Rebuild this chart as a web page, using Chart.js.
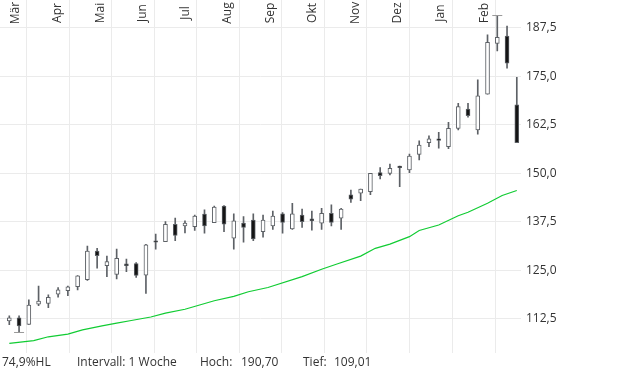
<!DOCTYPE html>
<html lang="de">
<head>
<meta charset="UTF-8">
<title>Wochenchart</title>
<script src="https://cdn.jsdelivr.net/npm/chart.js@4.4.1/dist/chart.umd.min.js"></script>
<style>
    html, body { margin: 0; padding: 0; background: #fff; }
    #wrap { position: relative; width: 620px; height: 372px; font-family: "Open Sans", sans-serif; font-size: 12px; color: #333; }
    #wrap canvas { position: absolute; left: 0; top: 0; }
    .foot { position: absolute; top: 354px; line-height: 16px; white-space: nowrap; }
</style>
</head>
<body>
<div id="wrap">
    <canvas id="chart" width="620" height="372"></canvas>
    <span class="foot" style="left:2px">74,9%HL</span>
    <span class="foot" style="left:77px">Intervall: 1 Woche</span>
    <span class="foot" style="left:200px">Hoch:</span>
    <span class="foot" style="left:241px">190,70</span>
    <span class="foot" style="left:303px">Tief:</span>
    <span class="foot" style="left:334px">109,01</span>
</div>
<script>
// weekly candles, week 0 = first week of March
var opens  = [112.0, 112.8, 111.1, 116.3, 116.5, 118.9, 119.8, 120.8, 122.6, 130.0,
              126.2, 124.0, 126.7, 126.8, 123.8, 132.6, 132.4, 136.9, 136.5, 136.3,
              139.5, 137.3, 141.6, 133.3, 137.2, 138.0, 135.0, 136.5, 139.6, 135.7,
              139.3, 138.3, 137.2, 139.7, 138.5, 144.5, 144.9, 145.3, 150.2, 150.0,
              151.9, 150.9, 154.9, 157.9, 158.9, 156.9, 161.6, 166.6, 161.2, 170.4,
              183.5, 185.4, 167.7];
var highs  = [113.3, 113.3, 117.4, 121.0, 118.7, 120.6, 121.0, 123.7, 131.3, 130.7,
              128.7, 130.5, 127.9, 127.0, 131.7, 134.4, 137.6, 138.5, 137.8, 139.3,
              140.6, 141.6, 141.7, 139.6, 138.9, 139.6, 139.3, 140.3, 139.9, 142.3,
              140.8, 140.3, 141.0, 141.9, 141.0, 145.7, 146.0, 150.0, 151.5, 152.4,
              151.9, 155.0, 158.4, 159.7, 160.6, 163.2, 168.1, 168.1, 174.1, 185.7,
              190.70, 188.0, 174.8];
var lows   = [111.0, 109.01, 111.1, 115.9, 115.4, 118.1, 118.5, 120.0, 122.4, 125.6,
              123.4, 122.8, 124.7, 123.2, 119.1, 130.5, 132.4, 132.7, 134.7, 135.3,
              134.6, 137.3, 135.0, 130.5, 132.3, 132.7, 133.6, 135.6, 134.6, 135.6,
              136.1, 135.4, 135.6, 136.5, 135.6, 142.5, 143.0, 144.5, 148.6, 149.6,
              146.6, 150.2, 153.5, 156.9, 156.5, 156.4, 161.2, 164.5, 160.1, 170.4,
              181.6, 177.1, 157.9];
var closes = [112.8, 110.7, 116.1, 117.1, 118.1, 120.0, 120.8, 123.6, 130.0, 128.8,
              127.3, 128.1, 126.2, 123.7, 131.6, 132.3, 136.9, 134.0, 137.2, 139.0,
              136.5, 141.3, 136.9, 137.8, 136.1, 133.1, 138.0, 139.0, 137.4, 139.6,
              137.6, 137.8, 139.7, 137.4, 140.8, 143.4, 146.0, 150.0, 149.4, 151.3,
              151.5, 154.5, 157.3, 158.9, 158.5, 161.6, 167.2, 164.9, 170.0, 183.8,
              185.1, 178.4, 157.9];

// green average line, read at these week positions
var avgWeeks  = [0, 2.5, 4, 6, 7.5, 9.5, 11, 12.5, 14.5, 16, 18, 19.5, 21, 23, 24.5,
                 26.5, 30, 32, 33.5, 36, 37.5, 39, 41, 42, 44, 46, 47, 49, 50.5, 52];
var avgValues = [106.2, 106.9, 107.9, 108.6, 109.7, 110.7, 111.4, 112.1, 113.0, 114.0,
                 115.0, 116.1, 117.2, 118.3, 119.5, 120.6, 123.4, 125.3, 126.6, 128.7,
                 130.7, 131.8, 133.7, 135.3, 136.7, 139.1, 140.0, 142.3, 144.3, 145.6];

var months    = ['Mär', 'Apr', 'Mai', 'Jun', 'Jul', 'Aug', 'Sep', 'Okt', 'Nov', 'Dez', 'Jan', 'Feb', ''];
var monthWeek = [-0.37, 3.97, 8.37, 12.67, 17.08, 21.38, 25.79, 30.09, 34.5, 38.8, 43.2, 47.7, 52.0];
var yTicks    = [112.5, 125, 137.5, 150, 162.5, 175, 187.5];

var highWeek = 50, lowWeek = 1;

var candleLine = '#5d6166';

var wicks = [], bodies = [], bodyColors = [];
for (var i = 0; i < opens.length; i++) {
    wicks.push({ x: i, y: [lows[i], highs[i]] });
    bodies.push({ x: i, y: [opens[i], closes[i]] });
    bodyColors.push(closes[i] >= opens[i] ? '#ffffff' : '#151515');
}
var avgData = avgWeeks.map(function (w, k) { return { x: w, y: avgValues[k] }; });

function fmt(v) { return v.toFixed(1).replace('.', ','); }

// month names drawn inside the plot, rotated, right of each month line
var monthLabels = {
    id: 'monthLabels',
    beforeDatasetsDraw: function (chart) {
        var ctx = chart.ctx, xs = chart.scales.x;
        ctx.save();
        ctx.font = '12px "Open Sans", sans-serif';
        ctx.fillStyle = '#333';
        ctx.textAlign = 'center';
        ctx.textBaseline = 'alphabetic';
        for (var k = 0; k < months.length; k++) {
            if (!months[k]) continue;
            var px = Math.round(xs.getPixelForValue(monthWeek[k])) + 13;
            ctx.save();
            ctx.translate(px, 13);
            ctx.rotate(-Math.PI / 2);
            ctx.fillText(months[k], 0, 0);
            ctx.restore();
        }
        ctx.restore();
    }
};

new Chart(document.getElementById('chart'), {
    type: 'bar',
    data: {
        datasets: [
            {
                type: 'line',
                data: avgData,
                borderColor: '#11cc33',
                borderWidth: 1.2,
                pointRadius: 0,
                tension: 0,
                order: 4
            },
            {
                data: wicks,
                backgroundColor: candleLine,
                barThickness: 1,
                grouped: false,
                order: 3
            },
            {
                data: bodies,
                backgroundColor: bodyColors,
                borderColor: candleLine,
                borderWidth: 1,
                borderSkipped: false,
                barThickness: 4,
                grouped: false,
                order: 2
            },
            {
                type: 'line',
                data: [{ x: lowWeek, y: lows[lowWeek] }, { x: highWeek, y: highs[highWeek] }],
                showLine: false,
                pointStyle: 'line',
                pointRadius: 5,
                pointBorderColor: '#999',
                pointBorderWidth: 1,
                order: 1
            }
        ]
    },
    options: {
        responsive: false,
        animation: false,
        layout: { autoPadding: false, padding: { left: 0, top: 0, right: 0, bottom: 19.3 } },
        plugins: { legend: { display: false }, tooltip: { enabled: false } },
        scales: {
            x: {
                type: 'linear',
                offset: false,
                min: -0.953,
                max: 52.43,
                afterBuildTicks: function (s) { s.ticks = monthWeek.map(function (v) { return { value: v }; }); },
                afterFit: function (s) { s.height = 0; s.paddingLeft = 0; s.paddingRight = 0; },
                ticks: { display: false },
                grid: { color: '#ebebeb', drawTicks: false },
                border: { display: false }
            },
            y: {
                position: 'right',
                min: 103.8,
                max: 194.7,
                afterBuildTicks: function (s) { s.ticks = yTicks.map(function (v) { return { value: v }; }); },
                afterFit: function (s) { s.width = 99; s.paddingTop = 0; s.paddingBottom = 0; },
                ticks: {
                    padding: 5,
                    color: '#333',
                    font: { family: '"Open Sans", sans-serif', size: 12 },
                    callback: function (v) { return fmt(v); }
                },
                grid: { color: '#ebebeb', drawTicks: false },
                border: { display: false }
            }
        }
    },
    plugins: [monthLabels]
});
</script>
</body>
</html>
